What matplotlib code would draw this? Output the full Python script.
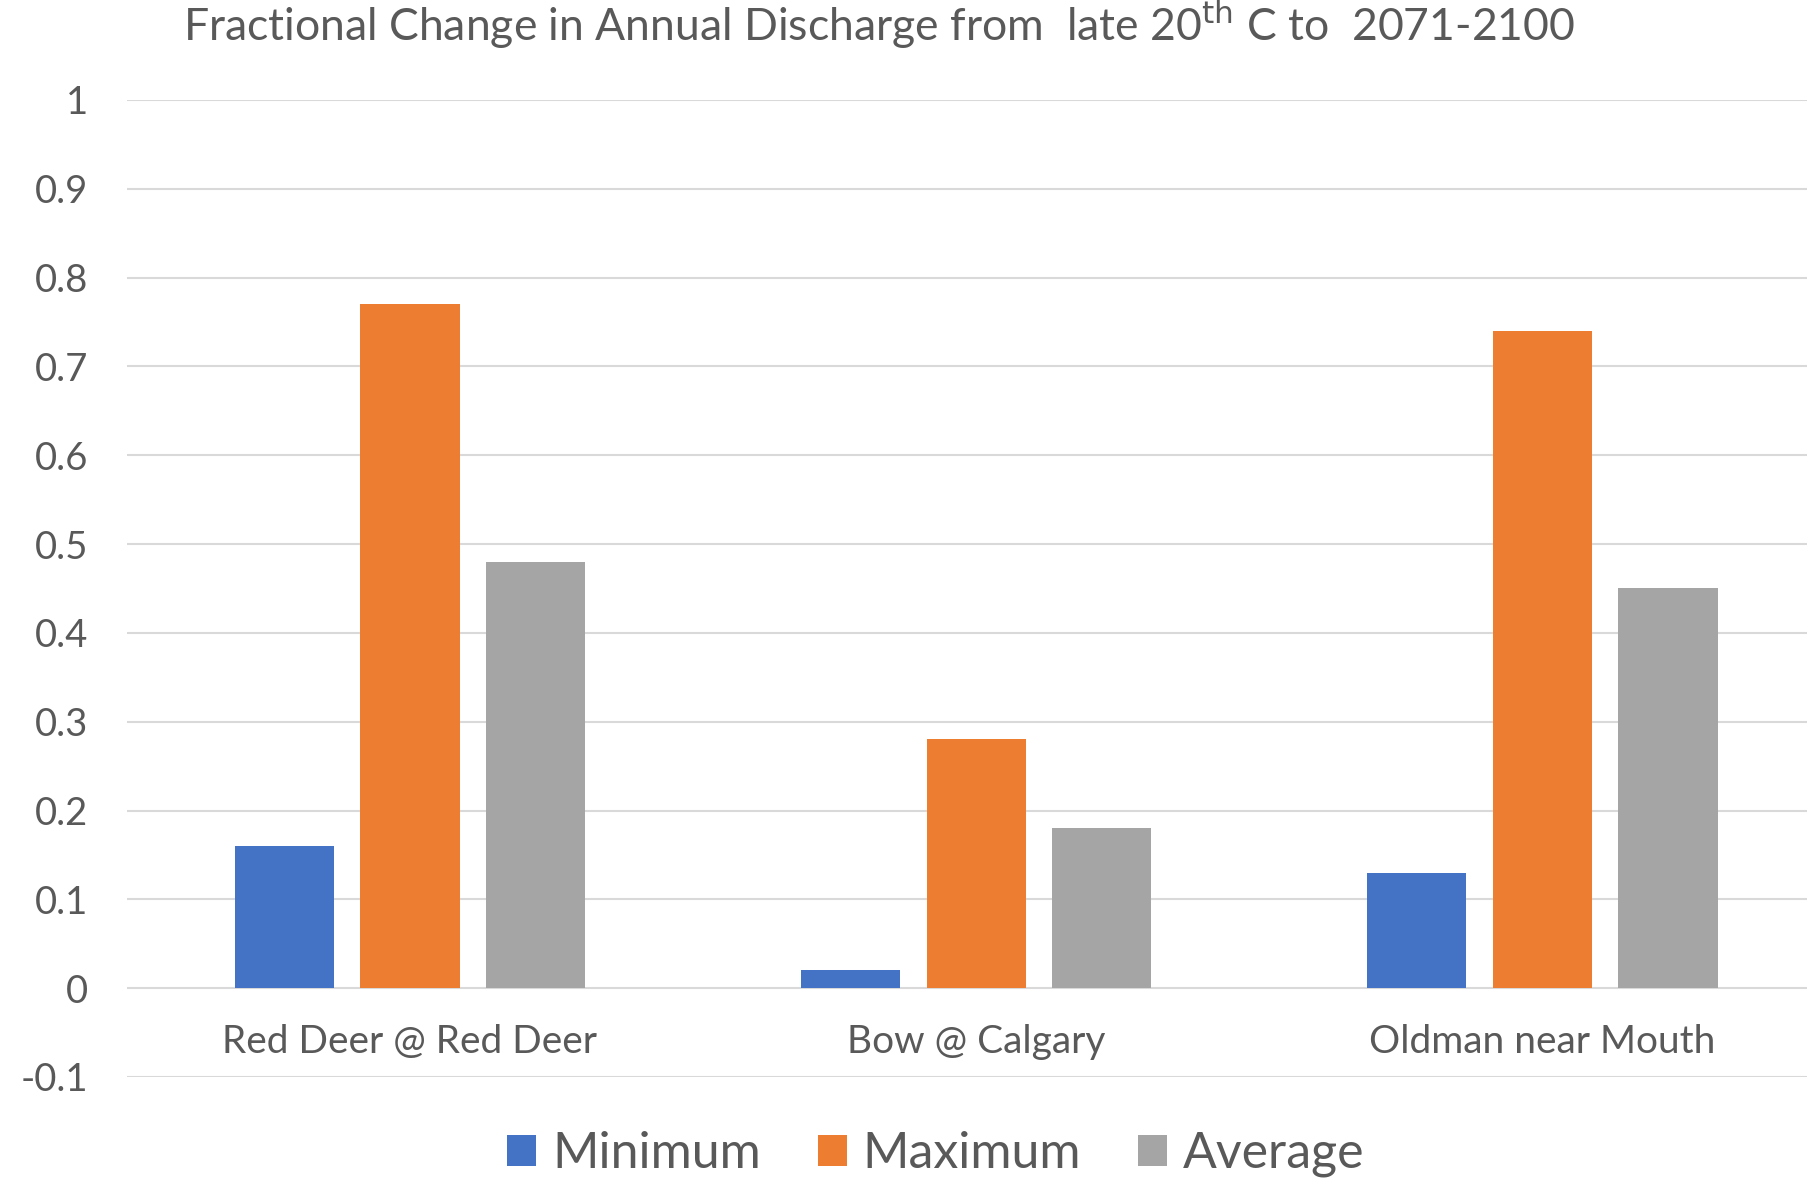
import matplotlib.pyplot as plt
import numpy as np

# Data
stations = ['Red Deer @ Red Deer', 'Bow @ Calgary', 'Oldman near Mouth']
minimum = [0.16, 0.02, 0.13]
maximum = [0.77, 0.28, 0.74]
average = [0.48, 0.18, 0.45]
series_names = ['Minimum', 'Maximum', 'Average']
yticks = [-0.1, 0, 0.1, 0.2, 0.3, 0.4, 0.5, 0.6, 0.7, 0.8, 0.9, 1]
ytick_labels = ['-0.1', '0', '0.1', '0.2', '0.3', '0.4', '0.5', '0.6', '0.7', '0.8', '0.9', '1']

colors = ['#4472C4', '#ED7D31', '#A5A5A5']
text_col = '#595959'

plt.rcParams['font.family'] = ['Lato', 'DejaVu Sans']

fig = plt.figure(figsize=(18.08, 11.8), dpi=100)
# the plot area runs a little past the right edge of the picture
ax = fig.add_axes([0.0702, 0.0873, 0.9394, 0.828])

x = np.arange(len(stations))
width = 0.175
offset = 0.222
for i, vals in enumerate([minimum, maximum, average]):
    ax.bar(x + (i - 1) * offset, vals, width, color=colors[i],
           label=series_names[i], zorder=3)

ax.set_xlim(-0.5, 2.5)
ax.set_ylim(-0.1, 1.0)
ax.set_yticks(yticks)
ax.set_yticklabels(ytick_labels, fontsize=27.5, color=text_col)
ax.tick_params(axis='y', length=0, pad=28)
ax.set_xticks([])
ax.yaxis.grid(True, color='#D9D9D9', linewidth=1.5, zorder=0)
for s in ax.spines.values():
    s.set_visible(False)

for xi, name in zip(x, stations):
    ax.text(xi, -0.061, name, ha='center', va='center', fontsize=28, color=text_col)

fig.text(0.486, 0.979, 'Fractional Change in Annual Discharge from  late 20$^{\\mathrm{th}}$ C to  2071-2100',
         ha='center', va='center', fontsize=32, color=text_col)

fig.legend(loc='center', bbox_to_anchor=(0.5176, 0.022), ncol=3, frameon=False,
           fontsize=36, labelcolor=text_col, handlelength=0.58, handleheight=0.58,
           handletextpad=0.32, columnspacing=1.13)

fig.savefig('out.png', dpi=100)
